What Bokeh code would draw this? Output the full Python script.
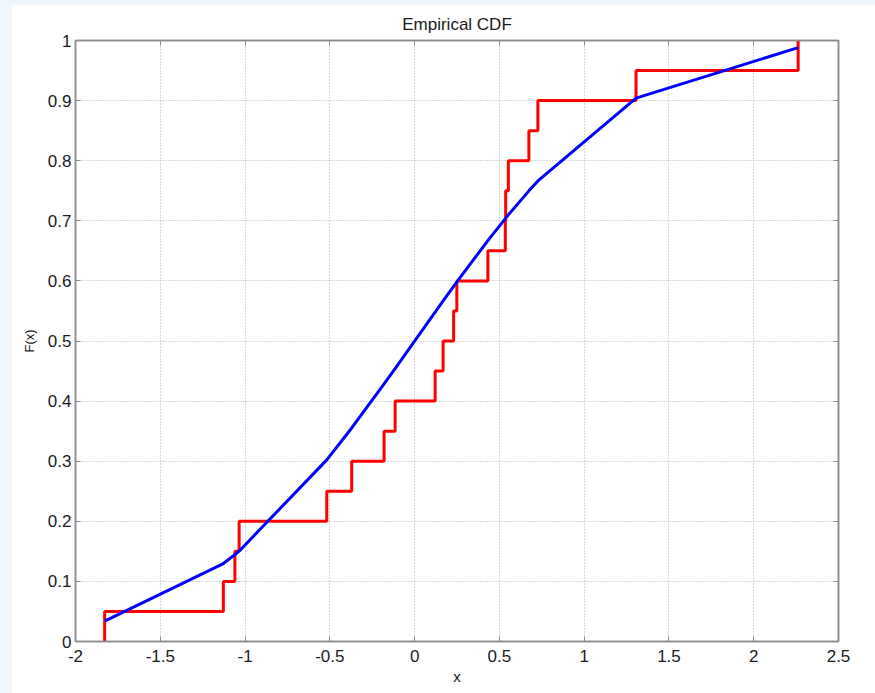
from bokeh.plotting import figure
from bokeh.layouts import column
from bokeh.models import Range1d, LinearAxis, FixedTicker
from bokeh.embed import file_html
from bokeh.resources import INLINE

# sorted sample values (positions of the ECDF jumps)
samples = [-1.828, -1.128, -1.060, -1.035, -0.518, -0.371, -0.180, -0.115,
           0.121, 0.168, 0.230, 0.249, 0.432, 0.535, 0.537, 0.553,
           0.674, 0.727, 1.306, 2.262]
# empirical CDF levels after each jump
ecdf_levels = [0.05, 0.10, 0.15, 0.20, 0.25, 0.30, 0.35, 0.40, 0.45, 0.50,
               0.55, 0.60, 0.65, 0.70, 0.75, 0.80, 0.85, 0.90, 0.95, 1.00]
# reference normal CDF at the sample points
normal_cdf = [0.0338, 0.1297, 0.1446, 0.1503, 0.3022, 0.3553, 0.4286, 0.4542,
              0.5482, 0.5667, 0.5910, 0.5983, 0.6671, 0.7037, 0.7044, 0.7099,
              0.7498, 0.7664, 0.9042, 0.9882]

x_ticks = [-2, -1.5, -1, -0.5, 0, 0.5, 1, 1.5, 2, 2.5]
x_tick_labels = ["-2", "-1.5", "-1", "-0.5", "0", "0.5", "1", "1.5", "2", "2.5"]
y_ticks = [0, 0.1, 0.2, 0.3, 0.4, 0.5, 0.6, 0.7, 0.8, 0.9, 1]
y_tick_labels = ["0", "0.1", "0.2", "0.3", "0.4", "0.5", "0.6", "0.7", "0.8", "0.9", "1"]

FONT = "Liberation Sans"
AXIS_GREY = "#8a8a8a"
TEXT = "#1a1a1a"

p = figure(width=864, height=689, x_range=Range1d(-2, 2.5), y_range=Range1d(0, 1),
           title="Empirical CDF", output_backend="svg", toolbar_location=None,
           background_fill_color="white", border_fill_color="white")
p.margin = (4, 0, 0, 11)
p.min_border_left = 64
p.min_border_right = 37
p.min_border_top = 36
p.min_border_bottom = 52
p.outline_line_color = AXIS_GREY
p.outline_line_width = 1.5

p.title.align = "center"
p.title.text_font = FONT
p.title.text_font_style = "normal"
p.title.text_font_size = "17px"
p.title.text_color = TEXT
p.title.offset = 0
p.title.standoff = 13


def style_axis(ax, ticks, labels=None):
    ax.ticker = FixedTicker(ticks=ticks)
    ax.axis_line_color = AXIS_GREY
    ax.axis_line_width = 1.5
    ax.major_tick_line_color = AXIS_GREY
    ax.major_tick_in = 5
    ax.major_tick_out = 0
    ax.minor_tick_line_color = None
    ax.major_label_text_font = FONT
    ax.major_label_text_font_size = "17px"
    ax.major_label_text_color = TEXT
    ax.axis_label_text_font = FONT
    ax.axis_label_text_font_style = "normal"
    ax.axis_label_text_color = TEXT
    if labels is not None:
        ax.major_label_overrides = {t: l for t, l in zip(ticks, labels)}
    else:
        # tick marks only on the opposite sides of the box
        ax.major_label_text_color = None
        ax.major_label_text_font_size = "1px"
        ax.major_label_standoff = 0


style_axis(p.xaxis[0], x_ticks, x_tick_labels)
style_axis(p.yaxis[0], y_ticks, y_tick_labels)
p.xaxis[0].axis_label = "x"
p.xaxis[0].axis_label_text_font_size = "15px"
p.xaxis[0].major_label_standoff = 8
p.xaxis[0].axis_label_standoff = 3
p.yaxis[0].axis_label = "F(x)"
p.yaxis[0].axis_label_text_font_size = "13px"
p.yaxis[0].major_label_standoff = 4
p.yaxis[0].axis_label_standoff = 8

top_axis = LinearAxis()
style_axis(top_axis, x_ticks)
p.add_layout(top_axis, "above")
right_axis = LinearAxis()
style_axis(right_axis, y_ticks)
p.add_layout(right_axis, "right")

p.xgrid.ticker = FixedTicker(ticks=x_ticks)
p.ygrid.ticker = FixedTicker(ticks=y_ticks)
for g in (p.xgrid[0], p.ygrid[0]):
    g.grid_line_color = "#b0b0b0"
    g.grid_line_dash = "1 2"
    g.grid_line_width = 1

# empirical CDF staircase: start at zero on the first sample
stair_x = [samples[0]] + samples
stair_y = [0.0] + ecdf_levels
p.step(stair_x, stair_y, mode="after", line_color="#ff0000", line_width=3)

# normal CDF through the sample points
p.line(samples, normal_cdf, line_color="#0000ff", line_width=3)

layout = column(p, styles={"background-color": "#eef5fb"})
open("out.html", "w").write(file_html(layout, INLINE))
